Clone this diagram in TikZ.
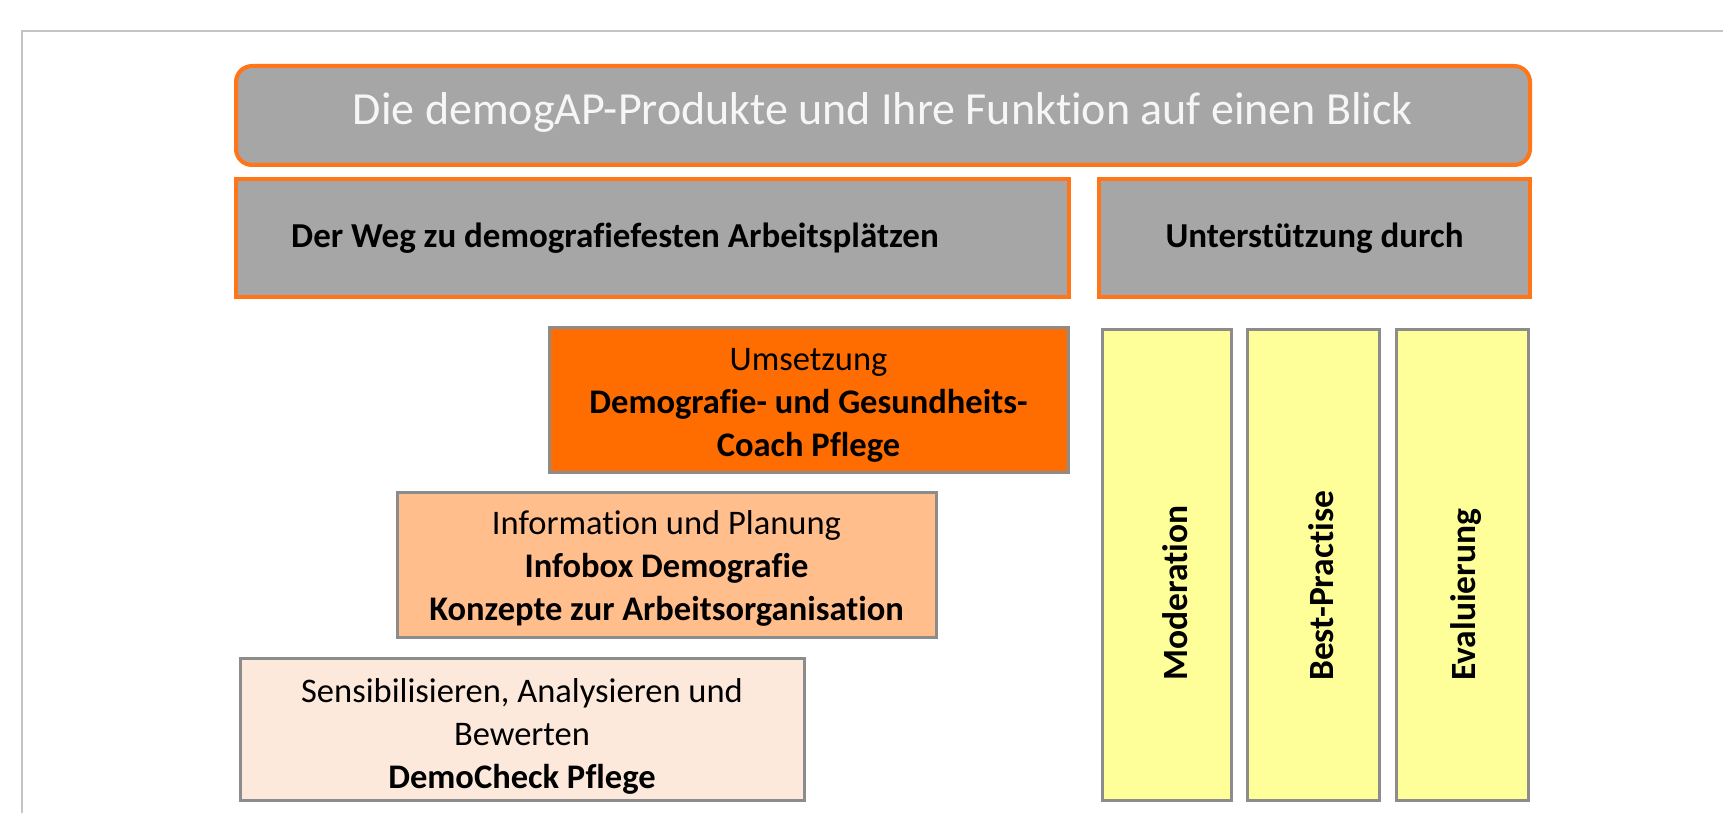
\documentclass[tikz,border=0pt]{standalone}
\usepackage{fontspec}
\setmainfont[Ligatures=NoCommon]{Carlito}
\definecolor{hdrgray}{HTML}{A6A6A6}
\definecolor{hdrorange}{HTML}{FF7518}
\definecolor{implorange}{HTML}{FF6D00}
\definecolor{infopeach}{HTML}{FFBE8C}
\definecolor{sensepeach}{HTML}{FDE9DB}
\definecolor{baryellow}{HTML}{FFFF99}
\definecolor{edgegray}{HTML}{8C8C8C}
\definecolor{framegray}{HTML}{C4C4C4}
\definecolor{titletext}{HTML}{F6F6F6}

\tikzset{
  headbox/.style={draw=hdrorange, fill=hdrgray, line width=4pt, inner sep=0pt},
  titlebox/.style={headbox, rounded corners=16pt},
  stepbox/.style={draw=edgegray, line width=3pt, inner sep=0pt},
  steptext/.style={inner sep=0pt, align=center, font=\fontsize{34.5}{43}\selectfont},
  barbox/.style={draw=edgegray, fill=baryellow, line width=3pt, inner sep=0pt},
  bartext/.style={rotate=90, anchor=west, inner sep=0pt,
    font=\fontsize{35.5}{40}\selectfont\bfseries},
  headtext/.style={inner sep=0pt, font=\fontsize{35}{40}\selectfont\bfseries},
}

\begin{document}
\begin{tikzpicture}[x=1pt, y=-1pt]
\useasboundingbox (0,0) rectangle (1723,813);

% thin page frame
\draw[framegray, line width=2pt] (22,813) -- (22,31) -- (1723,31);

% title bar
\node[titlebox, minimum width=1294, minimum height=99] (title) at (883,115.5) {};
\node[inner sep=0pt, text=titletext, font=\fontsize{46}{52}\selectfont] (titletxt)
  at (883,112) {Die demogAP-Produkte und Ihre Funktion auf einen Blick};

% column headers
\node[headbox, minimum width=833, minimum height=118] (weg) at (652.5,238) {};
\node[headtext, anchor=west] (wegtxt) at (291,238) {Der Weg zu demografiefesten Arbeitsplätzen};
\node[headbox, minimum width=431, minimum height=118] (support) at (1314.5,238) {};
\node[headtext] (supporttxt) at (support.center) {Unterstützung durch};

% staircase of steps
\node[stepbox, fill=implorange, minimum width=519, minimum height=145] (impl) at (808.5,400) {};
\node[steptext] (impltxt) at ([yshift=-5pt]impl.center)
  {Umsetzung\\\textbf{Demografie- und Gesundheits-}\\\textbf{Coach Pflege}};
\node[stepbox, fill=infopeach, minimum width=539, minimum height=145] (info) at (666.5,564.5) {};
\node[steptext] (infotxt) at ([yshift=-4pt]info.center)
  {Information und Planung\\\textbf{Infobox Demografie}\\\textbf{Konzepte zur Arbeitsorganisation}};
\node[stepbox, fill=sensepeach, minimum width=564, minimum height=142] (sens) at (522,729) {};
\node[steptext] (senstxt) at ([yshift=-7pt]sens.center)
  {Sensibilisieren, Analysieren und\\Bewerten\\\textbf{DemoCheck Pflege}};

% support pillars
\node[barbox, minimum width=129, minimum height=471] (moder) at (1166.5,564.5) {};
\node[barbox, minimum width=132, minimum height=471] (best) at (1313,564.5) {};
\node[barbox, minimum width=132, minimum height=471] (eval) at (1462,564.5) {};
\node[bartext] (modertxt) at (1175,681) {Moderation};
\node[bartext] (besttxt) at (1321,681) {Best-Practise};
\node[bartext] (evaltxt) at (1466,681) {Evaluierung};
\end{tikzpicture}
\end{document}
